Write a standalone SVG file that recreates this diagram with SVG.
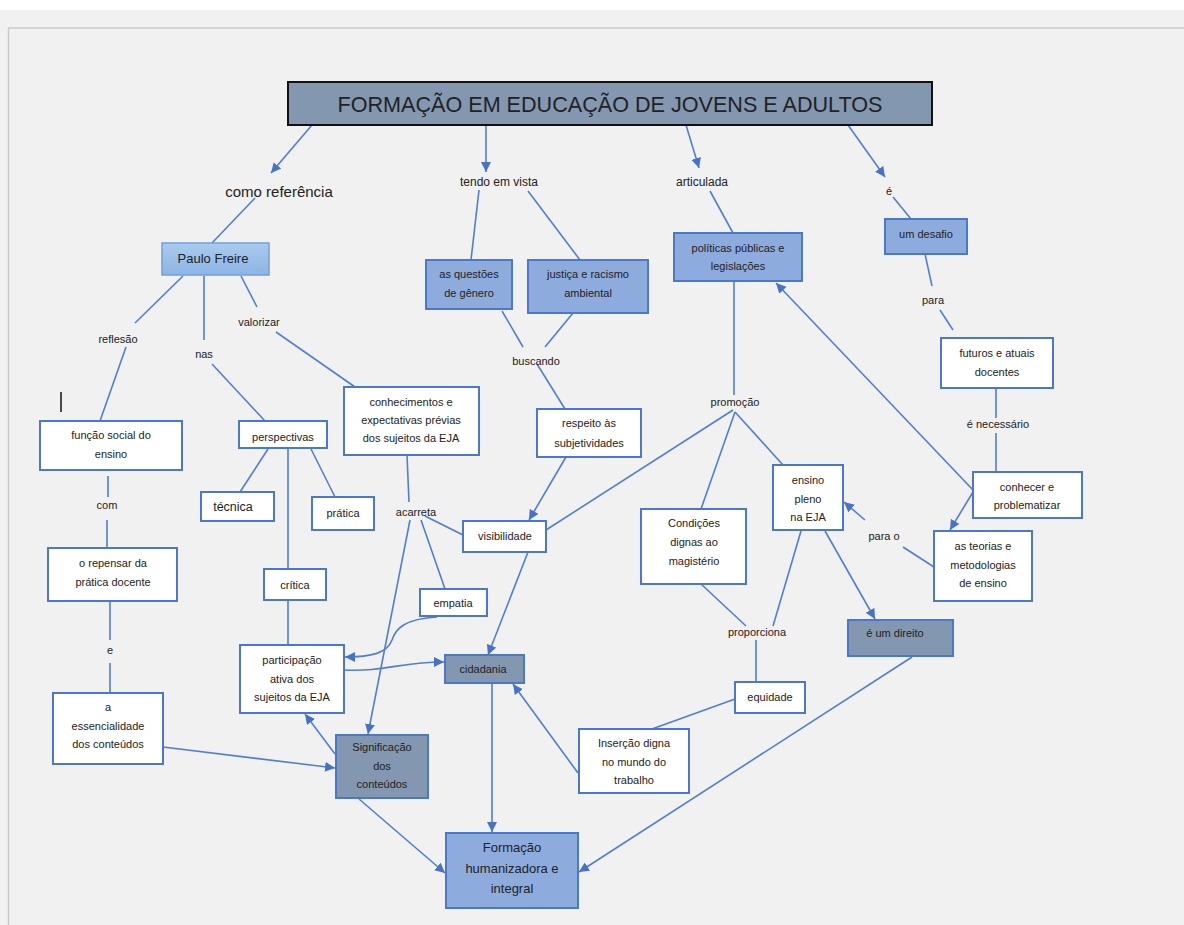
<svg xmlns="http://www.w3.org/2000/svg" width="1184" height="925" viewBox="0 0 1184 925">
<style>
text{font-family:"Liberation Sans","DejaVu Sans",sans-serif;fill:#222;text-anchor:middle}
.n{font-size:11px}
.l{font-size:11px}
.w{fill:#fff;stroke:#4a78cc;stroke-width:2}
.s{fill:#8397b1;stroke:#4a78cc;stroke-width:2}
.m{fill:#8eabde;stroke:#4a78cc;stroke-width:2}
.c line,.c path{stroke:#4f7fd2;stroke-width:1.6;fill:none}
.a{marker-end:url(#ah)}
</style>
<defs>
<marker id="ah" markerUnits="userSpaceOnUse" markerWidth="11" markerHeight="11" refX="10" refY="5" orient="auto"><path d="M0,0 L10,5 L0,10 z" fill="#4672c8"/></marker>
<linearGradient id="pf" x1="0" y1="0" x2="0" y2="1"><stop offset="0" stop-color="#a9cbef"/><stop offset="1" stop-color="#8cb4e3"/></linearGradient>
</defs>
<rect x="0" y="0" width="1184" height="925" fill="#f1f1f1"/>
<rect x="0" y="0" width="1184" height="10" fill="#fff"/>
<line x1="8" y1="28" x2="1184" y2="28" stroke="#c9c9c9" stroke-width="1.5"/>
<line x1="8.5" y1="28" x2="8.5" y2="925" stroke="#c9c9c9" stroke-width="1.5"/>
<line x1="61" y1="392" x2="61" y2="412" stroke="#111" stroke-width="1.5"/>
<g class="c" id="connectors">
<line class="a" x1="312" y1="125" x2="271" y2="173"/>
<line x1="255" y1="198" x2="212" y2="243"/>
<line class="a" x1="486" y1="125" x2="486" y2="172"/>
<line class="a" x1="686" y1="125" x2="699" y2="168"/>
<line class="a" x1="848" y1="125" x2="885" y2="177"/>
<line x1="183" y1="276" x2="135" y2="323"/>
<line x1="126" y1="347" x2="100" y2="421"/>
<line x1="204" y1="276" x2="204" y2="340"/>
<line x1="212" y1="364" x2="265" y2="421"/>
<line x1="241" y1="276" x2="257" y2="307"/>
<line x1="276" y1="332" x2="355" y2="387"/>
<line x1="108" y1="476" x2="108" y2="497"/>
<line x1="107" y1="520" x2="107" y2="548"/>
<line x1="110" y1="601" x2="110" y2="640"/>
<line x1="110" y1="663" x2="110" y2="693"/>
<line class="a" x1="163" y1="747" x2="335" y2="768"/>
<line x1="268" y1="449" x2="240" y2="492"/>
<line x1="311" y1="449" x2="335" y2="497"/>
<line x1="288" y1="448" x2="288" y2="569"/>
<line x1="288" y1="600" x2="288" y2="645"/>
<line x1="407" y1="455" x2="409" y2="502"/>
<line x1="425" y1="516" x2="463" y2="535"/>
<line x1="421" y1="520" x2="445" y2="589"/>
<line class="a" x1="410" y1="520" x2="368" y2="734"/>
<path class="a" d="M437,617 C405,619 396,628 392,640 C387,653 372,657 345,657"/>
<path class="a" d="M344,670 C385,672 400,662 444,662"/>
<line class="a" x1="566" y1="457" x2="529" y2="520"/>
<line class="a" x1="528" y1="552" x2="488" y2="655"/>
<line x1="546" y1="530" x2="733" y2="410"/>
<line class="a" x1="492" y1="683" x2="492" y2="832"/>
<line class="a" x1="578" y1="773" x2="513" y2="684"/>
<line class="a" x1="335" y1="754" x2="305" y2="714"/>
<line class="a" x1="359" y1="799" x2="445" y2="873"/>
<line class="a" x1="912" y1="657" x2="579" y2="872"/>
<line x1="479" y1="190" x2="471" y2="260"/>
<line x1="528" y1="191" x2="580" y2="260"/>
<line x1="502" y1="311" x2="523" y2="347"/>
<line x1="573" y1="313" x2="545" y2="347"/>
<line x1="537" y1="364" x2="565" y2="409"/>
<line x1="710" y1="191" x2="733" y2="233"/>
<line x1="734" y1="281" x2="734" y2="395"/>
<line class="a" x1="973" y1="490" x2="776" y2="283"/>
<line x1="735" y1="412" x2="701" y2="509"/>
<line x1="735" y1="412" x2="783" y2="465"/>
<line x1="701" y1="584" x2="746" y2="626"/>
<line x1="801" y1="531" x2="773" y2="626"/>
<line class="a" x1="825" y1="531" x2="875" y2="619"/>
<line x1="756" y1="640" x2="756" y2="682"/>
<line x1="735" y1="699" x2="652" y2="729"/>
<line x1="893" y1="197" x2="911" y2="219"/>
<line x1="925" y1="254" x2="932" y2="286"/>
<line x1="940" y1="310" x2="953" y2="330"/>
<line x1="996" y1="388" x2="996" y2="418"/>
<line x1="996" y1="433" x2="996" y2="472"/>
<line class="a" x1="973" y1="492" x2="950" y2="530"/>
<line x1="934" y1="567" x2="903" y2="547"/>
<line class="a" x1="865" y1="520" x2="844" y2="502"/>
</g>
<g id="title"><rect x="288" y="82" width="644" height="43" fill="#8397b1" stroke="#111" stroke-width="2"/><text x="610" y="112" font-size="22" textLength="545" lengthAdjust="spacingAndGlyphs">FORMAÇÃO EM EDUCAÇÃO DE JOVENS E ADULTOS</text></g>
<g id="l-comoref"><text x="279" y="197" font-size="15">como referência</text></g>
<g id="paulo"><rect x="162" y="243" width="107" height="32" fill="url(#pf)" stroke="#6fa0dc" stroke-width="1.5"/><text x="213" y="263" font-size="13">Paulo Freire</text></g>
<g id="l-reflesao"><text class="l" x="118" y="343">reflesão</text></g>
<g id="l-nas"><text class="l" x="204" y="358">nas</text></g>
<g id="l-valorizar"><text class="l" x="259" y="326">valorizar</text></g>
<g id="funcao"><rect class="w" x="40" y="421" width="142" height="49"/><text class="n" x="111" y="439">função social do</text><text class="n" x="111" y="458">ensino</text></g>
<g id="l-com"><text class="l" x="107" y="509">com</text></g>
<g id="repensar"><rect class="w" x="48" y="548" width="129" height="53"/><text class="n" x="113" y="567">o repensar da</text><text class="n" x="113" y="586">prática docente</text></g>
<g id="l-e"><text class="l" x="110" y="654">e</text></g>
<g id="essencialidade"><rect class="w" x="53" y="693" width="110" height="71"/><text class="n" x="108" y="711">a</text><text class="n" x="108" y="730">essencialidade</text><text class="n" x="108" y="748">dos conteúdos</text></g>
<g id="perspectivas"><rect class="w" x="239" y="421" width="88" height="27"/><text class="n" x="283" y="441">perspectivas</text></g>
<g id="tecnica"><rect class="w" x="201" y="492" width="73" height="29"/><text x="233" y="511" font-size="12.5">técnica</text></g>
<g id="pratica"><rect class="w" x="312" y="497" width="62" height="33"/><text class="n" x="343" y="517">prática</text></g>
<g id="critica"><rect class="w" x="264" y="569" width="62" height="31"/><text class="n" x="295" y="589">crítica</text></g>
<g id="participacao"><rect class="w" x="240" y="645" width="104" height="68"/><text class="n" x="292" y="664">participação</text><text class="n" x="292" y="683">ativa dos</text><text class="n" x="292" y="701">sujeitos da EJA</text></g>
<g id="conhecimentos"><rect class="w" x="344" y="387" width="135" height="68"/><text class="n" x="411" y="406">conhecimentos e</text><text class="n" x="411" y="424">expectativas prévias</text><text class="n" x="411" y="442">dos sujeitos da EJA</text></g>
<g id="l-acarreta"><text class="l" x="416" y="516">acarreta</text></g>
<g id="empatia"><rect class="w" x="420" y="589" width="67" height="27"/><text class="n" x="453" y="607">empatia</text></g>
<g id="visibilidade"><rect class="w" x="463" y="521" width="83" height="31"/><text class="n" x="505" y="540">visibilidade</text></g>
<g id="cidadania"><rect class="s" x="445" y="655" width="79" height="28"/><text class="n" x="483" y="673">cidadania</text></g>
<g id="significacao"><rect class="s" x="336" y="735" width="92" height="63"/><text class="n" x="382" y="751">Significação</text><text class="n" x="382" y="770">dos</text><text class="n" x="382" y="788">conteúdos</text></g>
<g id="formacao"><rect class="m" x="446" y="833" width="132" height="75"/><text x="512" y="852" font-size="13">Formação</text><text x="512" y="873" font-size="13">humanizadora e</text><text x="512" y="893" font-size="13">integral</text></g>
<g id="l-tendo"><text x="499" y="186" font-size="12">tendo em vista</text></g>
<g id="questoes"><rect class="m" x="426" y="260" width="86" height="49"/><text class="n" x="469" y="278">as questões</text><text class="n" x="469" y="297">de gênero</text></g>
<g id="justica"><rect class="m" x="528" y="260" width="120" height="53"/><text class="n" x="588" y="278">justiça e racismo</text><text class="n" x="588" y="297">ambiental</text></g>
<g id="l-buscando"><text class="l" x="536" y="365">buscando</text></g>
<g id="respeito"><rect class="w" x="537" y="409" width="104" height="48"/><text class="n" x="589" y="427">respeito às</text><text class="n" x="589" y="447">subjetividades</text></g>
<g id="l-articulada"><text x="702" y="186" font-size="12">articulada</text></g>
<g id="politicas"><rect class="m" x="674" y="233" width="128" height="48"/><text class="n" x="738" y="252">políticas públicas e</text><text class="n" x="738" y="270">legislações</text></g>
<g id="l-promocao"><text class="l" x="735" y="406">promoção</text></g>
<g id="condicoes"><rect class="w" x="641" y="509" width="105" height="75"/><text class="n" x="694" y="527">Condições</text><text class="n" x="694" y="546">dignas ao</text><text class="n" x="694" y="565">magistério</text></g>
<g id="ensino"><rect class="w" x="773" y="465" width="70" height="65"/><text class="n" x="808" y="484">ensino</text><text class="n" x="808" y="503">pleno</text><text class="n" x="808" y="521">na EJA</text></g>
<g id="l-proporciona"><text class="l" x="757" y="636">proporciona</text></g>
<g id="equidade"><rect class="w" x="735" y="682" width="70" height="31"/><text class="n" x="770" y="701">equidade</text></g>
<g id="insercao"><rect class="w" x="579" y="729" width="110" height="64"/><text class="n" x="634" y="747">Inserção digna</text><text class="n" x="634" y="766">no mundo do</text><text class="n" x="634" y="784">trabalho</text></g>
<g id="direito"><rect class="s" x="848" y="620" width="105" height="36"/><text class="n" x="895" y="637">é um direito</text></g>
<g id="l-e2"><text class="l" x="889" y="195">é</text></g>
<g id="desafio"><rect class="m" x="885" y="219" width="82" height="35"/><text class="n" x="926" y="238">um desafio</text></g>
<g id="l-para"><text class="l" x="933" y="304">para</text></g>
<g id="futuros"><rect class="w" x="941" y="338" width="112" height="50"/><text class="n" x="997" y="357">futuros e atuais</text><text class="n" x="997" y="376">docentes</text></g>
<g id="l-necessario"><text class="l" x="998" y="428">é necessário</text></g>
<g id="conhecer"><rect class="w" x="973" y="472" width="109" height="46"/><text class="n" x="1027" y="491">conhecer e</text><text class="n" x="1027" y="509">problematizar</text></g>
<g id="teorias"><rect class="w" x="934" y="531" width="98" height="70"/><text class="n" x="983" y="550">as teorias e</text><text class="n" x="983" y="569">metodologias</text><text class="n" x="983" y="587">de ensino</text></g>
<g id="l-parao"><text class="l" x="884" y="540">para o</text></g>
</svg>
